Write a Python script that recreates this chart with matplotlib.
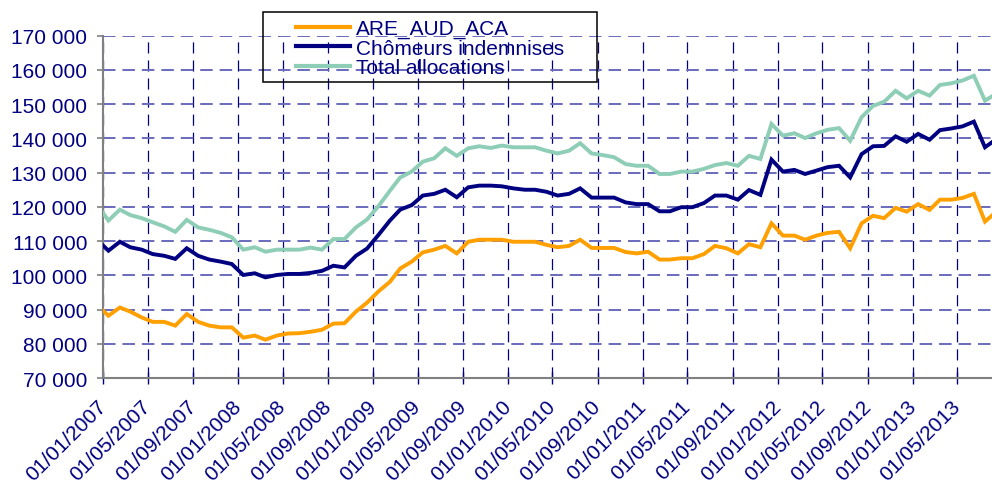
import numpy as np
import pandas as pd
import matplotlib
matplotlib.use("Agg")
import matplotlib.pyplot as plt
import matplotlib.transforms as mtransforms
from matplotlib.patches import Rectangle
from matplotlib.ticker import FuncFormatter, MultipleLocator

plt.rcParams['font.family'] = ['Liberation Sans', 'DejaVu Sans']
plt.rcParams['lines.scale_dashes'] = False

# monthly points (mid-month), Dec 2006 -> Aug 2013
dates = pd.date_range("2006-12-01", periods=81, freq="MS") + pd.Timedelta(days=14)

are_aud_aca = [91.4, 88.2, 90.6, 89.4, 87.7, 86.4, 86.4, 85.3, 88.7, 86.4,
               85.3, 84.8, 84.8, 81.8, 82.4, 81.2, 82.4, 83.0, 83.1, 83.5,
               84.1, 85.9, 86.0, 89.4, 92.0, 95.3, 98.1, 102.0, 104.0, 106.7,
               107.5, 108.6, 106.4, 109.8, 110.4, 110.4, 110.4, 109.8, 109.8, 109.8,
               108.9, 108.2, 108.6, 110.4, 108.0, 108.0, 108.0, 106.8, 106.4, 106.9,
               104.6, 104.6, 105.0, 105.0, 106.2, 108.6, 107.9, 106.4, 109.1, 108.2,
               115.2, 111.6, 111.6, 110.4, 111.6, 112.4, 112.7, 107.9, 115.2, 117.4,
               116.7, 119.7, 118.6, 120.8, 119.1, 122.1, 122.1, 122.6, 123.8, 115.7,
               118.6]
chomeurs = [110.4, 107.2, 109.8, 108.2, 107.5, 106.2, 105.7, 104.8, 107.9, 105.7,
            104.6, 104.0, 103.3, 100.1, 100.6, 99.4, 100.1, 100.4, 100.4, 100.7,
            101.3, 102.8, 102.3, 105.7, 107.8, 111.8, 116.0, 119.2, 120.5, 123.3,
            123.8, 125.0, 122.8, 125.7, 126.2, 126.2, 126.0, 125.4, 125.0, 125.0,
            124.4, 123.3, 123.8, 125.4, 122.7, 122.7, 122.7, 121.3, 120.8, 120.8,
            118.7, 118.7, 119.9, 119.9, 121.1, 123.3, 123.3, 122.1, 124.9, 123.5,
            133.8, 130.3, 130.8, 129.6, 130.6, 131.6, 132.0, 128.6, 135.4, 137.7,
            137.8, 140.6, 139.0, 141.3, 139.6, 142.4, 142.9, 143.5, 144.9, 137.4,
            139.8]
total_alloc = [120.7, 116.0, 119.2, 117.6, 116.7, 115.5, 114.3, 112.7, 116.2, 114.0,
               113.3, 112.4, 111.1, 107.5, 108.2, 106.9, 107.5, 107.5, 107.5, 108.1,
               107.5, 110.6, 110.6, 114.0, 116.3, 120.2, 124.7, 128.6, 130.3, 133.2,
               134.2, 137.1, 134.9, 137.1, 137.7, 137.2, 137.9, 137.4, 137.4, 137.4,
               136.4, 135.6, 136.4, 138.6, 135.6, 135.1, 134.5, 132.5, 132.0, 132.0,
               129.6, 129.6, 130.3, 130.3, 131.1, 132.2, 132.8, 132.0, 134.9, 134.0,
               144.2, 140.8, 141.5, 140.1, 141.5, 142.5, 143.0, 139.3, 146.2, 149.5,
               150.7, 153.9, 151.7, 153.9, 152.5, 155.6, 156.1, 156.9, 158.3, 151.0,
               153.1]

tick_dates = pd.date_range("2007-01-01", "2013-05-01", freq="4MS")
tick_labels = ["01/01/2007", "01/05/2007", "01/09/2007", "01/01/2008", "01/05/2008",
               "01/09/2008", "01/01/2009", "01/05/2009", "01/09/2009", "01/01/2010",
               "01/05/2010", "01/09/2010", "01/01/2011", "01/05/2011", "01/09/2011",
               "01/01/2012", "01/05/2012", "01/09/2012", "01/01/2013", "01/05/2013"]

series = [("ARE_AUD_ACA", are_aud_aca, "#FFA000"),
          ("Chômeurs indemnises", chomeurs, "#000080"),
          ("Total allocations", total_alloc, "#8ECDB6")]

navy = "#000080"
fig = plt.figure(figsize=(9.92, 4.89), dpi=100)
ax = fig.add_axes([0.1041, 0.2249, 0.8959, 0.7001])

for name, vals, col in series:
    ax.plot(dates, np.array(vals) * 1000, color=col, lw=2.8, label=name,
            solid_joinstyle="miter", zorder=3)

ax.set_xlim(pd.Timestamp("2007-01-01"), pd.Timestamp("2013-08-03"))
ax.set_ylim(70000, 170000)
ax.yaxis.set_major_locator(MultipleLocator(10000))
ax.yaxis.set_major_formatter(FuncFormatter(lambda v, p: f"{int(v):,}".replace(",", " ")))
ax.set_xticks(tick_dates)
ax.set_xticklabels(tick_labels, rotation=45, ha="right", va="center",
                   rotation_mode="anchor")
shift = mtransforms.ScaledTranslation(-5 / 100, 0, fig.dpi_scale_trans)
for lbl in ax.get_xticklabels():
    lbl.set_transform(lbl.get_transform() + shift)

ax.grid(axis="y", color="#6A6ABD", lw=1.4, dashes=(9, 5), zorder=1)
ax.grid(axis="x", color=navy, lw=0.9, dashes=(8, 5), zorder=1)

for s in ["top", "right"]:
    ax.spines[s].set_visible(False)
for s in ["left", "bottom"]:
    ax.spines[s].set_color("#808080")
    ax.spines[s].set_linewidth(1.5)

ax.tick_params(axis="y", colors="#808080", labelcolor=navy, labelsize=15,
               length=4.5, width=1.2, pad=7)
ax.tick_params(axis="x", colors=navy, labelcolor=navy, labelsize=15,
               direction="inout", length=8, width=1, pad=14)

leg = ax.legend(loc="upper left", bbox_to_anchor=(296 / 992, 1 - 20 / 489),
                bbox_transform=fig.transFigure, frameon=False, fontsize=15,
                handlelength=2.6, handletextpad=0.3, labelspacing=0.02,
                borderpad=0, borderaxespad=0)
for t in leg.get_texts():
    t.set_color(navy)
for h in leg.get_lines():
    h.set_linewidth(3)

fig.add_artist(Rectangle((263 / 992, 1 - 82.7 / 489), 334 / 992, 70 / 489,
                         transform=fig.transFigure, fill=False, ec="black",
                         lw=1.1, zorder=5))

fig.savefig("out.png", dpi=100)
